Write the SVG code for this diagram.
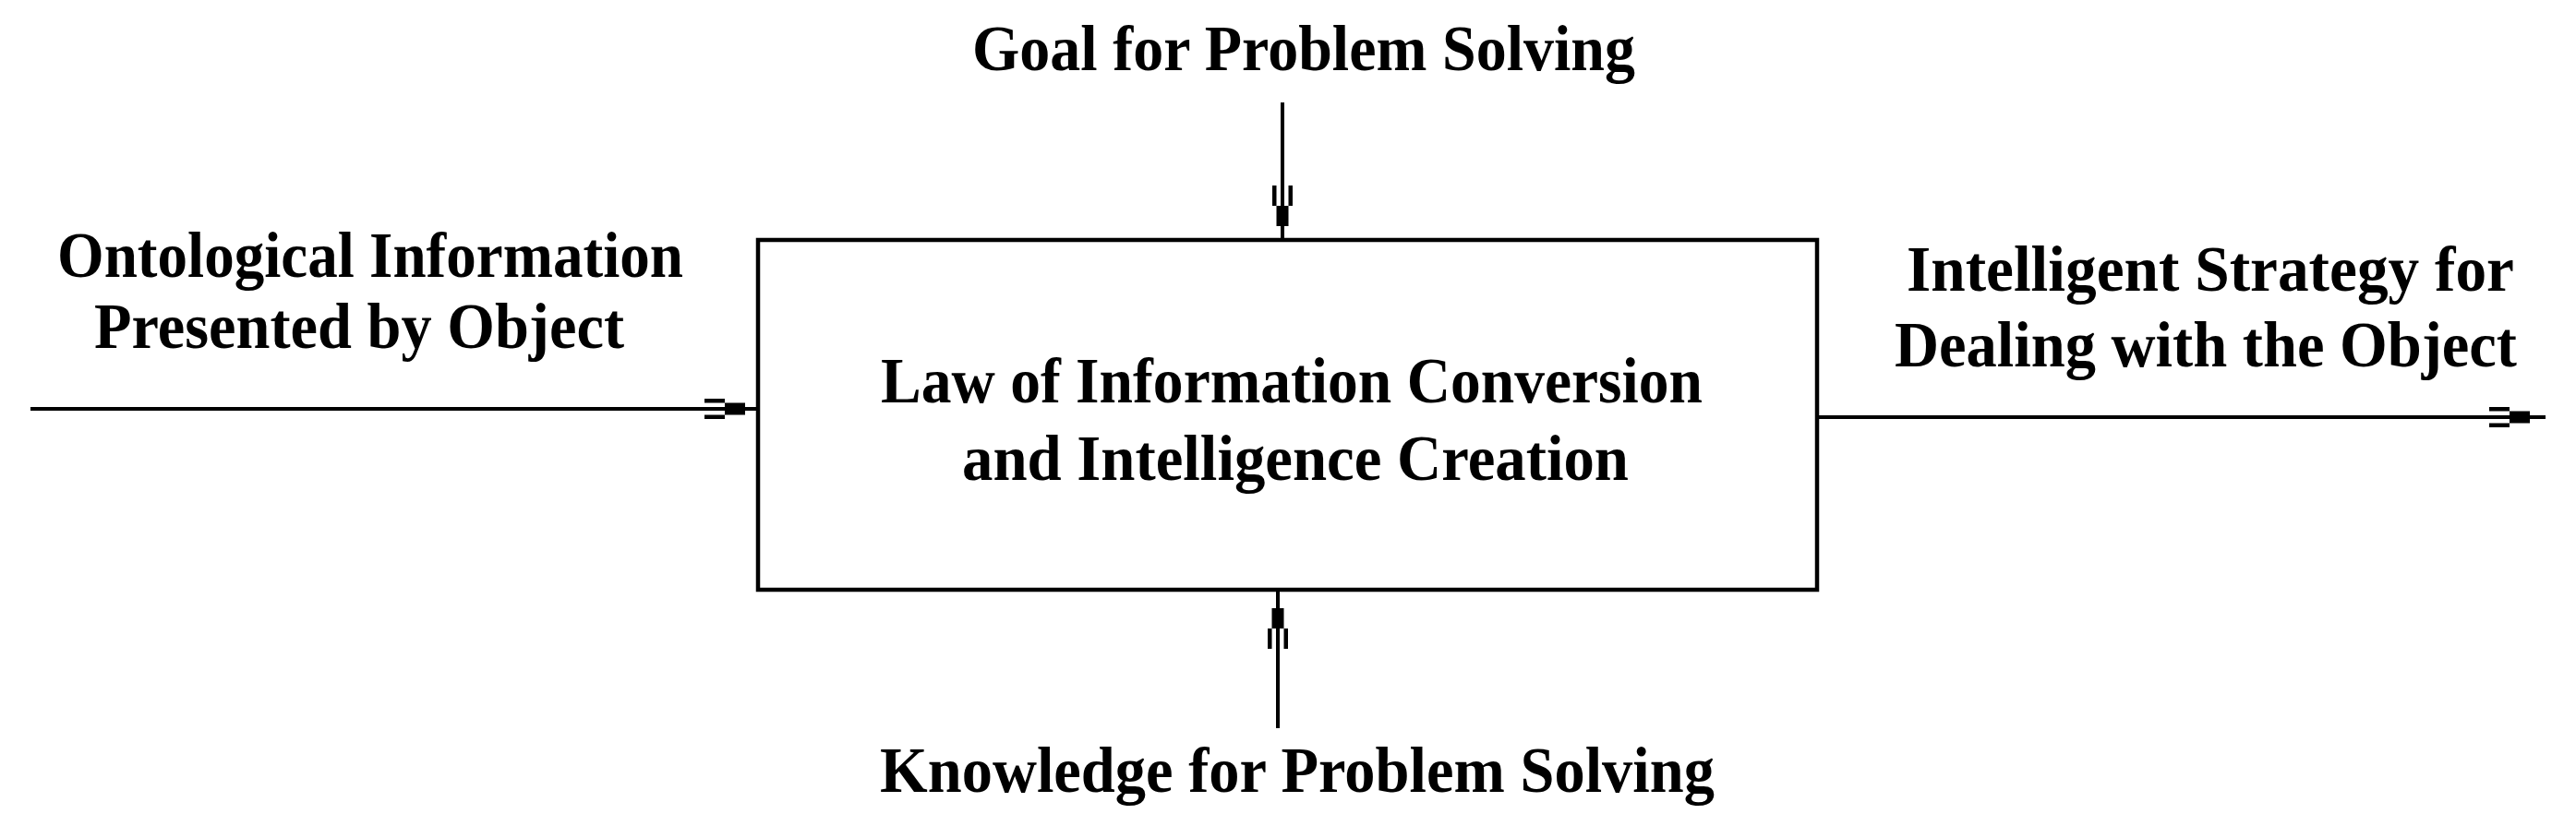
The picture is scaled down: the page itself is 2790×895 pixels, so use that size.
<svg xmlns="http://www.w3.org/2000/svg" xmlns:xlink="http://www.w3.org/1999/xlink" width="2790" height="895" viewBox="0 0 2790 895">
<style>
text{font-family:"Liberation Serif","Times New Roman",serif;font-weight:bold;font-size:70px;fill:#000}
.ln{stroke:#000;stroke-width:4;fill:none}
.box{stroke:#000;stroke-width:4.5;fill:#fff}
</style>
<defs>
<g id="ah" fill="#000"><rect x="-22" y="-6.5" width="22" height="13"/><rect x="-44" y="-11" width="22" height="4.5"/><rect x="-44" y="6.5" width="22" height="4.5"/></g>
</defs>
<rect width="2790" height="895" fill="#fff"/>
<g id="connectors">
<line class="ln" x1="33" y1="443" x2="821" y2="443"/>
<use xlink:href="#ah" transform="translate(807,443)"/>
<line class="ln" x1="1389" y1="111" x2="1389" y2="260"/>
<use xlink:href="#ah" transform="translate(1389,245) rotate(90)"/>
<line class="ln" x1="1384" y1="639" x2="1384" y2="789"/>
<use xlink:href="#ah" transform="translate(1384,659) rotate(-90)"/>
<line class="ln" x1="1968" y1="452" x2="2757" y2="452"/>
<use xlink:href="#ah" transform="translate(2740,452)"/>
</g>
<g id="process">
<rect class="box" x="821" y="260" width="1147" height="379"/>
<text x="954" y="436" textLength="890" lengthAdjust="spacingAndGlyphs">Law of Information Conversion</text>
<text x="1042" y="520" textLength="722" lengthAdjust="spacingAndGlyphs">and Intelligence Creation</text>
</g>
<g id="goal">
<text x="1053" y="76" textLength="718" lengthAdjust="spacingAndGlyphs">Goal for Problem Solving</text>
</g>
<g id="input">
<text x="62" y="300" textLength="678" lengthAdjust="spacingAndGlyphs">Ontological Information</text>
<text x="102" y="377" textLength="574" lengthAdjust="spacingAndGlyphs">Presented by Object</text>
</g>
<g id="output">
<text x="2065" y="315" textLength="658" lengthAdjust="spacingAndGlyphs">Intelligent Strategy for</text>
<text x="2052" y="397" textLength="674" lengthAdjust="spacingAndGlyphs">Dealing with the Object</text>
</g>
<g id="knowledge">
<text x="953" y="858" textLength="904" lengthAdjust="spacingAndGlyphs">Knowledge for Problem Solving</text>
</g>
</svg>
